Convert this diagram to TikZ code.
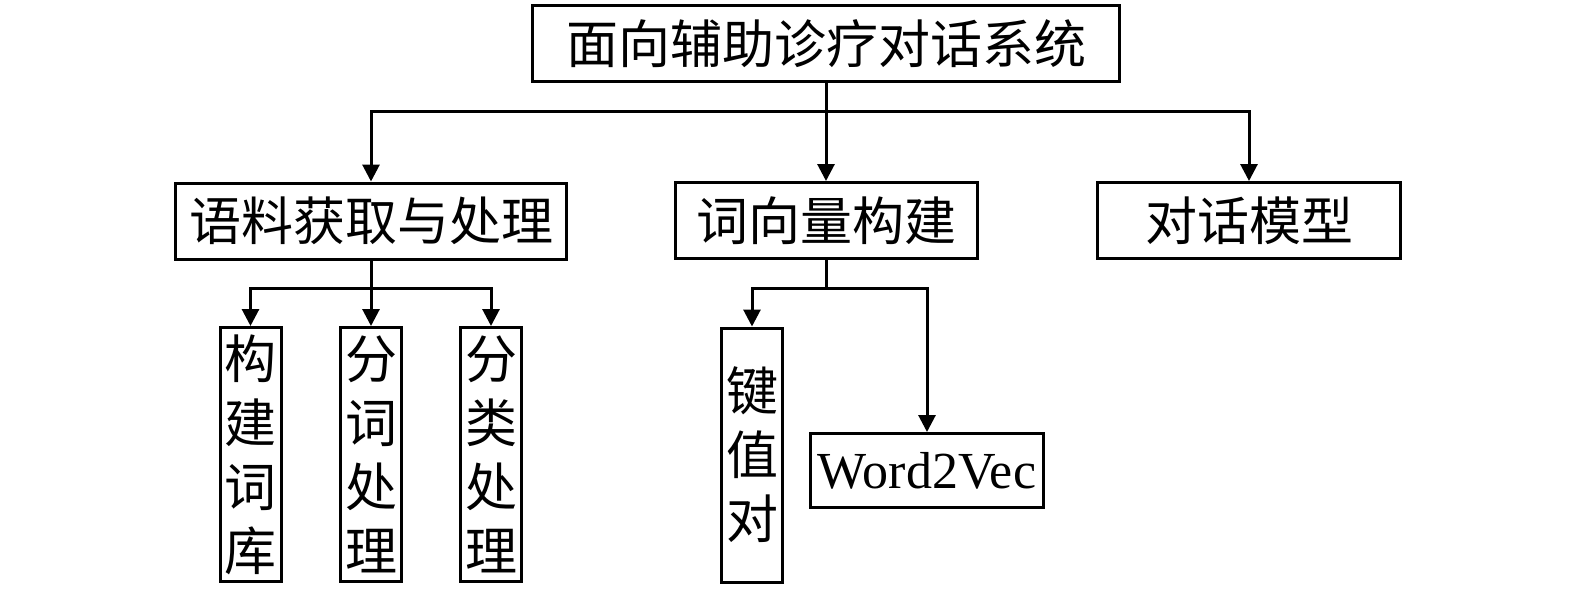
\documentclass[tikz,border=0pt]{standalone}
\usepackage{fontspec}
\setmainfont{Liberation Serif}
\newfontfamily\cjk{Noto Sans CJK SC}
\usetikzlibrary{arrows.meta}
\begin{document}
\begin{tikzpicture}[x=1pt,y=-1pt,
  line width=3pt,
  box/.style={draw, inner sep=0pt, align=center, font=\cjk\fontsize{52}{64}\selectfont},
  vbox/.style={box, minimum width=61pt, minimum height=254pt},
  arr/.style={-{Triangle[length=17pt,width=17pt]}}]
\useasboundingbox (0,0) rectangle (1575,589);
\node[box, minimum width=587pt, minimum height=76pt] (top) at (826,43.5) {面向辅助诊疗对话系统};
\node[box, minimum width=391pt, minimum height=76pt] (b1) at (371,221) {语料获取与处理};
\node[box, minimum width=302pt, minimum height=76pt] (b2) at (826,220.5) {词向量构建};
\node[box, minimum width=303pt, minimum height=76pt] (b3) at (1249,220.5) {对话模型};
\node[vbox] (v1) at (250.5,454.5) {构\\建\\词\\库};
\node[vbox] (v2) at (371,454.5) {分\\词\\处\\理};
\node[vbox] (v3) at (491,454.5) {分\\类\\处\\理};
\node[vbox] (v4) at (752,455) {键\\值\\对};
\node[draw, inner sep=0pt, minimum width=233pt, minimum height=74pt, font=\fontsize{52}{60}\selectfont] (w2v) at (927,470.5) {Word2Vec};
% top level connectors
\coordinate (bus) at (826,111);
\draw[arr] (top.south) -- (b2.north);
\draw[arr] (bus) -| (b1.north);
\draw[arr] (bus) -| (b3.north);
% sub-tree 1
\coordinate (s1) at (371,288);
\draw (b1.south) -- (s1);
\draw[arr] (s1) -| (v1.north);
\draw[arr] (s1) -- (v2.north);
\draw[arr] (s1) -| (v3.north);
% sub-tree 2
\coordinate (s2) at (826,288);
\draw (b2.south) -- (s2);
\draw[arr] (s2) -| (v4.north);
\draw[arr] (s2) -| (w2v.north);
\end{tikzpicture}
\end{document}
